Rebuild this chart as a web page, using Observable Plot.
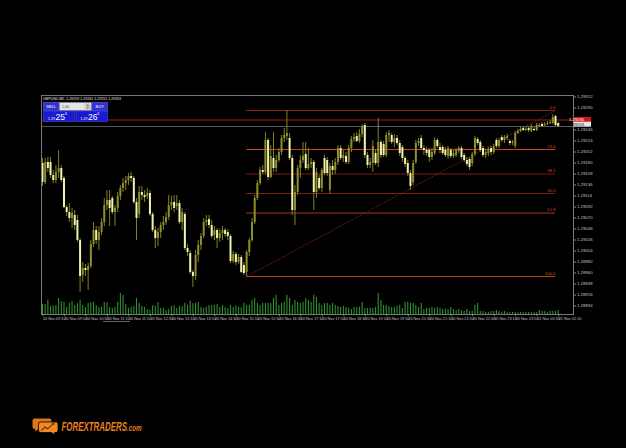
<!DOCTYPE html>
<html>
<head>
<meta charset="utf-8">
<script src="https://cdn.jsdelivr.net/npm/d3@7"></script>
<script src="https://cdn.jsdelivr.net/npm/@observablehq/plot@0.6"></script>
<style>
  html, body { margin: 0; padding: 0; background: #000; }
  #wrap { position: relative; width: 626px; height: 448px; overflow: hidden; background: #000; }
  #wrap > svg { position: absolute; left: 0; top: 0; }
</style>
</head>
<body>
<div id="wrap"></div>
<script>
// GBPUSD, 5-minute bars, 20 Nov 09:10 – 21 Nov 01:10
const symbol = "GBPUSD,M5";

const timeLabels = [
  "20 Nov 09:10","20 Nov 09:50","20 Nov 10:30","20 Nov 11:10","20 Nov 11:50",
  "20 Nov 12:30","20 Nov 13:10","20 Nov 13:50","20 Nov 14:30","20 Nov 15:10",
  "20 Nov 15:50","20 Nov 16:30","20 Nov 17:10","20 Nov 17:50","20 Nov 18:30",
  "20 Nov 19:10","20 Nov 19:50","20 Nov 20:30","20 Nov 21:10","20 Nov 21:50",
  "20 Nov 22:30","20 Nov 23:10","20 Nov 23:50","21 Nov 00:30","21 Nov 01:10"
];
const labelBars = [0,8,16,24,32,40,48,56,64,72,80,88,96,104,112,120,128,136,144,152,160,168,176,184,192];

const opens = [
  1.29179,1.29141,1.29181,1.29181,1.29155,1.29145,1.29161,1.29169,1.29149,1.29091,
  1.29081,1.29069,1.29075,1.29065,1.29025,1.28955,1.28969,1.28965,1.28973,1.29017,
  1.29045,1.29025,1.29041,1.29061,1.29095,1.29105,1.29109,1.29081,1.29089,1.29113,
  1.29129,1.29139,1.29145,1.29153,1.29149,1.29101,1.29077,1.29121,1.29115,1.29113,
  1.29119,1.29077,1.29045,1.29029,1.29041,1.29055,1.29061,1.29071,1.29095,1.29101,
  1.29093,1.29099,1.29061,1.29077,1.29009,1.28999,1.28961,1.28953,1.28995,1.29015,
  1.29033,1.29061,1.29067,1.29055,1.29035,1.29045,1.29029,1.29039,1.29045,1.29041,
  1.29033,1.28983,1.28997,1.28981,1.28991,1.28975,1.28961,1.29001,1.29025,1.29061,
  1.29109,1.29139,1.29165,1.29161,1.29225,1.29151,1.29189,1.29169,1.29185,1.29201,
  1.29229,1.29233,1.29229,1.29189,1.29085,1.29121,1.29169,1.29185,1.29197,1.29169,
  1.29177,1.29181,1.29121,1.29149,1.29129,1.29189,1.29185,1.29125,1.29173,1.29165,
  1.29181,1.29209,1.29189,1.29193,1.29181,1.29209,1.29227,1.29233,1.29223,1.29237,
  1.29255,1.29195,1.29175,1.29179,1.29199,1.29179,1.29221,1.29217,1.29195,1.29235,
  1.29235,1.29221,1.29229,1.29219,1.29211,1.29189,1.29179,1.29159,1.29141,1.29181,
  1.29219,1.29229,1.29209,1.29205,1.29205,1.29191,1.29199,1.29225,1.29211,1.29211,
  1.29205,1.29193,1.29205,1.29193,1.29195,1.29203,1.29209,1.29195,1.29185,1.29187,
  1.29179,1.29197,1.29227,1.29221,1.29209,1.29195,1.29199,1.29209,1.29201,1.29225,
  1.29213,1.29231,1.29225,1.29229,1.29223,1.29219,1.29213,1.29239,1.29243,1.29249,
  1.29245,1.29249,1.29243,1.29247,1.29245,1.29253,1.29257,1.29255,1.29257,1.29259,
  1.29259,1.29273,1.29259
];
const highs = [
  1.29189,1.29189,1.29191,1.29191,1.29165,1.29175,1.29205,1.29175,1.29153,1.29095,
  1.29099,1.29089,1.29085,1.29075,1.29029,1.28981,1.28977,1.28979,1.29025,1.29061,
  1.29053,1.29053,1.29069,1.29109,1.29125,1.29125,1.29113,1.29095,1.29121,1.29135,
  1.29149,1.29153,1.29159,1.29161,1.29153,1.29109,1.29133,1.29133,1.29125,1.29129,
  1.29125,1.29081,1.29053,1.29049,1.29061,1.29073,1.29081,1.29115,1.29113,1.29115,
  1.29115,1.29105,1.29089,1.29081,1.29017,1.29005,1.28965,1.29005,1.29025,1.29039,
  1.29069,1.29075,1.29075,1.29065,1.29053,1.29049,1.29047,1.29053,1.29049,1.29047,
  1.29037,1.29003,1.29001,1.28997,1.28995,1.28981,1.29005,1.29029,1.29069,1.29115,
  1.29145,1.29171,1.29175,1.29241,1.29229,1.29215,1.29241,1.29195,1.29209,1.29235,
  1.29249,1.29285,1.29239,1.29195,1.29135,1.29175,1.29195,1.29221,1.29221,1.29209,
  1.29189,1.29185,1.29169,1.29155,1.29169,1.29195,1.29191,1.29179,1.29185,1.29189,
  1.29215,1.29215,1.29205,1.29201,1.29215,1.29233,1.29239,1.29241,1.29247,1.29257,
  1.29259,1.29201,1.29189,1.29225,1.29205,1.29269,1.29225,1.29223,1.29241,1.29245,
  1.29239,1.29237,1.29235,1.29225,1.29215,1.29193,1.29185,1.29165,1.29185,1.29225,
  1.29229,1.29235,1.29215,1.29211,1.29209,1.29209,1.29231,1.29229,1.29219,1.29215,
  1.29211,1.29213,1.29209,1.29205,1.29209,1.29213,1.29213,1.29199,1.29191,1.29191,
  1.29201,1.29233,1.29231,1.29225,1.29213,1.29205,1.29211,1.29213,1.29217,1.29229,
  1.29229,1.29235,1.29235,1.29237,1.29227,1.29225,1.29243,1.29247,1.29251,1.29251,
  1.29251,1.29253,1.29257,1.29251,1.29259,1.29259,1.29261,1.29261,1.29263,1.29265,
  1.29277,1.29275,1.29261
];
const lows = [
  1.29133,1.29137,1.29161,1.29149,1.29139,1.29139,1.29149,1.29141,1.29089,1.29073,
  1.29061,1.29049,1.29045,1.29021,1.28921,1.28941,1.28953,1.28925,1.28969,1.29011,
  1.29017,1.29005,1.29035,1.29053,1.29085,1.29053,1.29077,1.29053,1.29081,1.29105,
  1.29121,1.29125,1.29135,1.29141,1.29097,1.29025,1.29069,1.29105,1.29101,1.29107,
  1.29073,1.29041,1.29009,1.29013,1.29029,1.29045,1.29055,1.29065,1.29085,1.29081,
  1.29085,1.29057,1.29045,1.29005,1.28993,1.28957,1.28931,1.28945,1.28981,1.29005,
  1.29029,1.29053,1.29049,1.29029,1.29025,1.29009,1.29021,1.29025,1.29031,1.29025,
  1.28979,1.28979,1.28975,1.28977,1.28959,1.28955,1.28953,1.28993,1.29021,1.29057,
  1.29105,1.29135,1.29157,1.29157,1.29145,1.29149,1.29161,1.29161,1.29181,1.29195,
  1.29221,1.29225,1.29185,1.29075,1.29055,1.29115,1.29149,1.29179,1.29165,1.29165,
  1.29169,1.29085,1.29109,1.29125,1.29121,1.29155,1.29153,1.29117,1.29155,1.29157,
  1.29175,1.29185,1.29181,1.29177,1.29177,1.29201,1.29221,1.29221,1.29219,1.29231,
  1.29189,1.29169,1.29169,1.29161,1.29175,1.29171,1.29189,1.29191,1.29191,1.29221,
  1.29217,1.29211,1.29215,1.29193,1.29181,1.29171,1.29153,1.29125,1.29135,1.29177,
  1.29213,1.29205,1.29195,1.29193,1.29181,1.29185,1.29195,1.29209,1.29199,1.29195,
  1.29191,1.29187,1.29189,1.29189,1.29191,1.29199,1.29187,1.29181,1.29173,1.29165,
  1.29173,1.29193,1.29215,1.29201,1.29191,1.29189,1.29193,1.29195,1.29197,1.29209,
  1.29209,1.29221,1.29219,1.29225,1.29215,1.29215,1.29209,1.29237,1.29241,1.29243,
  1.29243,1.29241,1.29241,1.29243,1.29243,1.29251,1.29251,1.29253,1.29255,1.29257,
  1.29257,1.29253,1.29251
];
const closes = [
  1.29141,1.29181,1.29169,1.29155,1.29145,1.29161,1.29169,1.29145,1.29091,1.29081,
  1.29069,1.29079,1.29055,1.29025,1.28953,1.28969,1.28965,1.28973,1.29017,1.29045,
  1.29025,1.29041,1.29061,1.29095,1.29105,1.29089,1.29081,1.29089,1.29113,1.29129,
  1.29139,1.29145,1.29153,1.29149,1.29101,1.29069,1.29121,1.29115,1.29111,1.29119,
  1.29077,1.29045,1.29029,1.29041,1.29055,1.29061,1.29071,1.29095,1.29101,1.29089,
  1.29099,1.29061,1.29081,1.29009,1.29001,1.28961,1.28953,1.28995,1.29015,1.29033,
  1.29061,1.29065,1.29055,1.29033,1.29045,1.29029,1.29039,1.29045,1.29037,1.29033,
  1.28983,1.28997,1.28981,1.28991,1.28961,1.28959,1.29001,1.29025,1.29061,1.29109,
  1.29139,1.29165,1.29161,1.29225,1.29151,1.29193,1.29169,1.29185,1.29201,1.29229,
  1.29235,1.29239,1.29189,1.29085,1.29121,1.29169,1.29185,1.29193,1.29169,1.29177,
  1.29181,1.29121,1.29161,1.29129,1.29165,1.29159,1.29159,1.29173,1.29165,1.29181,
  1.29209,1.29189,1.29195,1.29181,1.29209,1.29227,1.29231,1.29223,1.29237,1.29253,
  1.29195,1.29175,1.29181,1.29213,1.29179,1.29221,1.29195,1.29195,1.29235,1.29239,
  1.29221,1.29229,1.29219,1.29199,1.29189,1.29177,1.29159,1.29133,1.29179,1.29219,
  1.29223,1.29209,1.29205,1.29199,1.29191,1.29201,1.29225,1.29213,1.29205,1.29199,
  1.29195,1.29209,1.29193,1.29199,1.29205,1.29209,1.29191,1.29185,1.29177,1.29171,
  1.29197,1.29229,1.29219,1.29205,1.29195,1.29201,1.29207,1.29201,1.29213,1.29213,
  1.29225,1.29225,1.29231,1.29233,1.29219,1.29221,1.29239,1.29243,1.29247,1.29245,
  1.29247,1.29245,1.29253,1.29245,1.29255,1.29255,1.29253,1.29257,1.29259,1.29261,
  1.29271,1.29255,1.29253
];
const volumes = [
  405,392,566,318,334,362,641,522,487,281,
  446,519,358,437,572,366,283,441,476,489,
  357,276,292,481,470,284,238,279,493,842,
  761,398,247,286,321,644,437,316,281,204,
  163,355,327,478,241,252,158,207,318,364,
  238,322,309,446,358,527,433,451,484,276,
  243,288,362,351,367,402,281,356,279,244,
  361,284,353,286,273,448,362,357,566,638,
  441,364,452,437,446,429,647,758,361,443,
  482,763,648,359,561,477,438,486,634,557,
  483,772,681,442,361,436,449,357,444,366,
  318,283,327,276,247,198,284,271,289,484,
  243,236,251,239,282,846,563,358,366,322,
  279,284,317,363,242,478,491,444,437,358,
  281,446,203,238,247,283,241,276,249,196,
  207,193,284,203,162,198,157,123,204,118,
  127,362,441,126,117,84,78,121,116,163,
  124,81,119,86,77,83,92,74,81,79,
  88,76,83,71,85,158,122,117,82,126,
  119,128,161
];

// Price scale ticks on the right-hand axis (the one under the ask tag is not shown)
const priceTicks = [
  1.29312,1.29290,1.29246,1.29224,1.29202,1.29180,1.29158,1.29136,1.29114,
  1.29092,1.29070,1.29048,1.29026,1.29004,1.28982,1.28960,1.28938,1.28916,1.28894
];

// Fibonacci retracement drawn from the swing low (bar 76) to the swing high
const fibLabels = ["0.0","23.6","38.2","50.0","61.8","100.0"];
const fibPrices = [1.29285,1.29207,1.29158,1.29119,1.29080,1.28953];
const fibStartBar = 76;
const fibEndBar = 191;

const bidPrice = 1.29253;
const askPrice = 1.29266;

// ---- styling ----
const fibColors = ["#8c2414","#c8461a","#7a1c10","#7e1e10","#a4361a","#b8421a"];
const BULL = "#8e8e2c", BEAR = "#f2f2b0", WICK = "#808026";
const W = 626, H = 448;
const M = {left: 41, right: 53, top: 95, bottom: 134};
const xDomain = [-0.37, 197.7];

const bars = opens.map((o, i) => ({
  i, open: o, high: highs[i], low: lows[i], close: closes[i], volume: volumes[i]
}));
const fib = fibLabels.map((label, k) => ({label, price: fibPrices[k]}));
const last = bars[bars.length - 1];
const header = `${symbol}  ${last.open.toFixed(5)} ${last.high.toFixed(5)} ${last.low.toFixed(5)} ${last.close.toFixed(5)}`;

const font = "Liberation Sans, DejaVu Sans, sans-serif";

// Volume histogram (own scale, sits along the bottom of the price window)
const volChart = Plot.plot({
  width: W, height: H,
  marginLeft: M.left, marginRight: M.right, marginTop: 214, marginBottom: M.bottom,
  style: {background: "transparent", maxWidth: "none", fontFamily: font},
  x: {domain: xDomain, axis: null},
  y: {domain: [0, 4000], axis: null},
  marks: [
    Plot.ruleX(bars, {x: "i", y1: 0, y2: "volume", stroke: "#2c922c", strokeWidth: 1.1})
  ]
});

// one rule per retracement level, each with its own line colour
const fibRules = fib.map((f, k) =>
  Plot.ruleY([f], {y: "price", x1: fibStartBar, x2: fibEndBar, stroke: fibColors[k], strokeWidth: 1})
);

const priceChart = Plot.plot({
  width: W, height: H,
  marginLeft: M.left, marginRight: M.right, marginTop: M.top, marginBottom: M.bottom,
  style: {background: "transparent", maxWidth: "none", fontFamily: font},
  x: {domain: xDomain, axis: null},
  y: {domain: [1.28877, 1.29315], axis: null},
  marks: [
    Plot.ruleY([bidPrice], {stroke: "#56565e", strokeWidth: 1}),
    Plot.ruleY([askPrice], {stroke: "#a01818", strokeWidth: 1}),
    ...fibRules,
    Plot.link([{x1: fibStartBar, y1: fibPrices[5], x2: fibEndBar, y2: fibPrices[0]}], {
      x1: "x1", y1: "y1", x2: "x2", y2: "y2",
      stroke: "#8e1c1c", strokeWidth: 1, strokeDasharray: "1.5,1.5"
    }),
    Plot.text(fib, {x: fibEndBar, y: "price", text: "label", textAnchor: "end", dy: -3,
      fill: "#c8521c", fontSize: 4.2}),
    Plot.ruleX(bars, {x: "i", y1: "low", y2: "high", stroke: WICK, strokeWidth: 1}),
    Plot.ruleX(bars.filter(d => d.close >= d.open), {x: "i", y1: "open", y2: "close",
      stroke: BULL, strokeWidth: 2}),
    Plot.ruleX(bars.filter(d => d.close < d.open), {x: "i", y1: "open", y2: "close",
      stroke: BEAR, strokeWidth: 2}),
    Plot.frame({stroke: "#777"}),
    Plot.axisY({anchor: "right", ticks: priceTicks, tickFormat: d => d.toFixed(5),
      tickSize: 2, tickPadding: 1.5, fontSize: 4.3, stroke: "#888", fill: "#c4c4c4"}),
    Plot.axisX({anchor: "bottom", ticks: labelBars,
      tickFormat: d => timeLabels[labelBars.indexOf(d)],
      tickSize: 2, tickPadding: 0.5, textAnchor: "start", dx: 0.5,
      fontSize: 3.8, stroke: "#888", fill: "#c4c4c4"}),
    Plot.text([header], {frameAnchor: "top-left", text: d => d, dx: 1.5, dy: 1.6,
      lineAnchor: "top", textAnchor: "start", fill: "#e8e8e8", fontSize: 3.6})
  ]
});

// Bid / ask price tags on the price axis
{
  const y = priceChart.scale("y");
  const g = d3.select(priceChart).append("g");
  const tags = [
    {price: askPrice, fill: "#d41414", color: "#fff", shift: 0},
    {price: bidPrice, fill: "#e6e6e6", color: "#111", shift: -1.8}
  ];
  for (const t of tags) {
    const py = y.apply(t.price) + t.shift;
    g.append("rect").attr("x", 573.5).attr("y", py - 2.5).attr("width", 17.5).attr("height", 5).attr("fill", t.fill);
    g.append("text").attr("x", 576.5).attr("y", py + 1.5).attr("font-size", 4.2)
      .attr("font-family", font).attr("fill", t.color).text(t.price.toFixed(5));
  }
}

const wrap = document.getElementById("wrap");
wrap.appendChild(volChart);
wrap.appendChild(priceChart);

// One-click trading panel and footer logo
const [bidBig, askBig] = [bidPrice, askPrice].map(p => {
  const s = p.toFixed(5);
  return {head: s.slice(0, 4), big: s.slice(4, 6), tail: s.slice(6)};
});
const overlay = `
<svg width="${W}" height="${H}" xmlns="http://www.w3.org/2000/svg" font-family="${font}">
  <g>
    <rect x="43.5" y="102.5" width="15.5" height="8" fill="#3232d2" stroke="#5a5af0" stroke-width="0.6"/>
    <text x="51.2" y="108.1" font-size="4" fill="#fff" text-anchor="middle">SELL</text>
    <rect x="59.5" y="102.5" width="32" height="8" fill="#e4e4e4" stroke="#9a9a9a" stroke-width="0.5"/>
    <text x="62" y="108" font-size="3.6" fill="#444">1.00</text>
    <rect x="84.5" y="103.2" width="6.4" height="6.6" fill="#cfcfcf"/>
    <path d="M86.2,106 l1.5,-1.8 l1.5,1.8z M86.2,107.2 l1.5,1.8 l1.5,-1.8z" fill="#777"/>
    <rect x="92" y="102.5" width="15.5" height="8" fill="#3232d2" stroke="#5a5af0" stroke-width="0.6"/>
    <text x="99.7" y="108.1" font-size="4" fill="#fff" text-anchor="middle">BUY</text>
    <rect x="43.5" y="111" width="31.5" height="10.5" fill="#1a1ad0" stroke="#4848f4" stroke-width="0.6"/>
    <text x="48" y="119.6" font-size="3.6" fill="#fff">${bidBig.head}</text>
    <text x="55.5" y="119.8" font-size="8.6" fill="#fff">${bidBig.big}</text>
    <text x="64.8" y="115.4" font-size="3.8" fill="#fff">${bidBig.tail}</text>
    <rect x="76" y="111" width="31.5" height="10.5" fill="#1a1ad0" stroke="#4848f4" stroke-width="0.6"/>
    <text x="80.5" y="119.6" font-size="3.6" fill="#fff">${askBig.head}</text>
    <text x="88" y="119.8" font-size="8.6" fill="#fff">${askBig.big}</text>
    <text x="97.3" y="115.4" font-size="3.8" fill="#fff">${askBig.tail}</text>
  </g>
  <line x1="103" x2="130" y1="321.5" y2="321.5" stroke="#7c7c7c" stroke-width="0.8"/>
  <g>
    <path d="M34.5,418.5 h15 a2,2 0 0 1 2,2 v6.5 a2,2 0 0 1 -2,2 h-11 l-3.2,2.6 v-2.6 h-0.8 a2,2 0 0 1 -2,-2 v-6.5 a2,2 0 0 1 2,-2z" fill="#d8761a"/>
    <path d="M40.5,422 h15.5 a2,2 0 0 1 2,2 v6.5 a2,2 0 0 1 -2,2 h-1.5 v2.4 l-3,-2.4 h-11 a2,2 0 0 1 -2,-2 v-6.5 a2,2 0 0 1 2,-2z" fill="#f08a22" stroke="#000" stroke-width="0.8"/>
    <polyline points="41.5,430.5 45,427 47.5,428.8 53.5,423.6" fill="none" stroke="#6a3200" stroke-width="1.1"/>
    <path d="M51.6,423 l3,-0.6 l-0.6,3z" fill="#6a3200"/>
    <text transform="translate(61.5,431) scale(0.66,1)" font-size="12" font-weight="bold"
      font-style="italic" fill="#e8821e">FOREXTRADERS<tspan font-size="9.5">.com</tspan></text>
  </g>
</svg>`;
wrap.insertAdjacentHTML("beforeend", overlay);
</script>
</body>
</html>
